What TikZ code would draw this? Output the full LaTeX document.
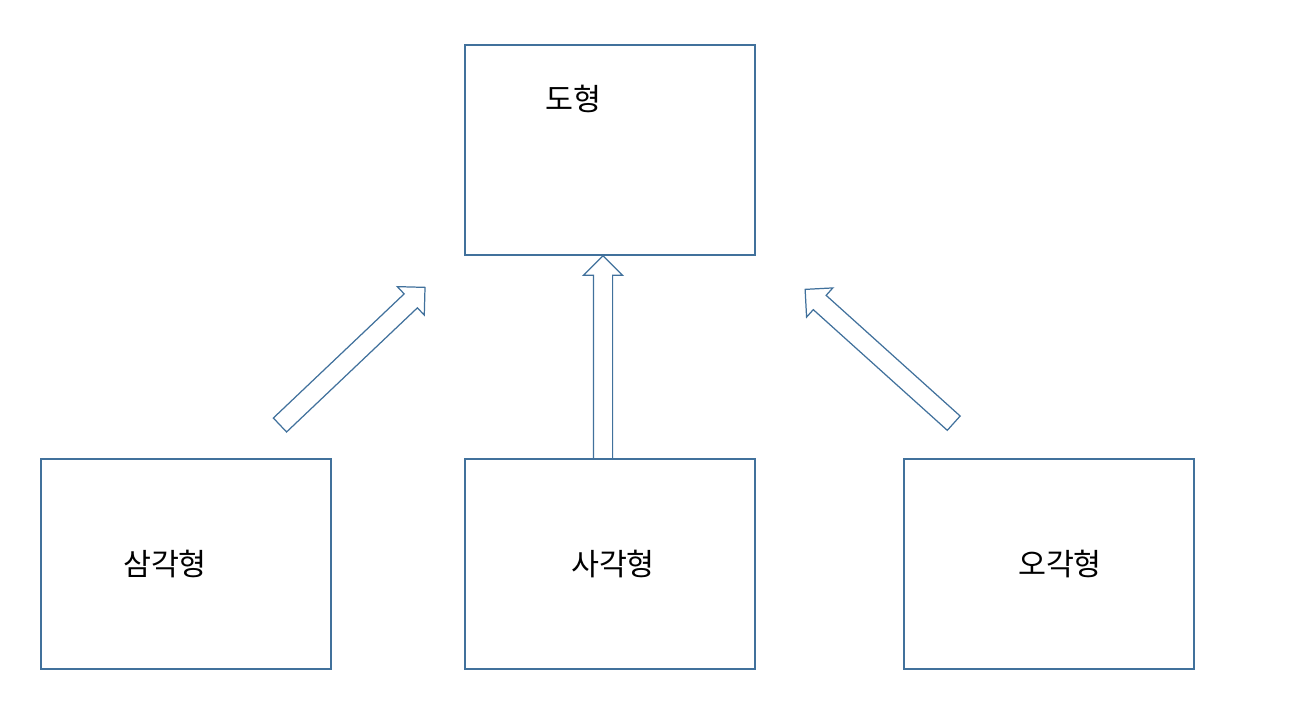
\documentclass[tikz,border=0pt]{standalone}
\usepackage{fontspec}
\newfontfamily\krfont{Noto Sans CJK KR}
\usetikzlibrary{shapes.arrows}
\begin{document}
\begin{tikzpicture}[x=0.02cm, y=-0.02cm,
    classbox/.style={rectangle, draw=boxcolor, fill=white, line width=0.9pt,
        minimum width=5.8cm, minimum height=4.2cm, inner sep=0pt},
    classname/.style={font=\krfont\fontsize{17.3}{20}\selectfont, text=black, inner sep=0pt},
    inherit/.style={single arrow, draw=boxcolor, fill=white, line width=0.7pt,
        inner xsep=0pt, inner ysep=0.18cm, single arrow head extend=0.2cm,
        single arrow head indent=0pt},
]
\definecolor{boxcolor}{HTML}{41719C}
\useasboundingbox (0,0) rectangle (1296,705);
  % classes
  \node[classbox] (shape) at (610, 150) {};
  \node[classbox] (triangle) at (186, 564) {};
  \node[classbox] (square) at (610, 564) {};
  \node[classbox] (pentagon) at (1049, 564) {};
  \node[classname] (shape_name) at (573, 99) {도형};
  \node[classname] (triangle_name) at (165, 564) {삼각형};
  \node[classname] (square_name) at (613, 564) {사각형};
  \node[classname] (pentagon_name) at (1060, 564) {오각형};
  % inheritance arrows
  \node[inherit, minimum height=4.06cm, rotate=90] (square_up) at (603, 362) {};
  \node[inherit, minimum height=4.0cm, rotate=43.5] (triangle_up) at (349, 359.5) {};
  \node[inherit, minimum height=4.0cm, rotate=138] (pentagon_up) at (883, 359.5) {};
\end{tikzpicture}
\end{document}
